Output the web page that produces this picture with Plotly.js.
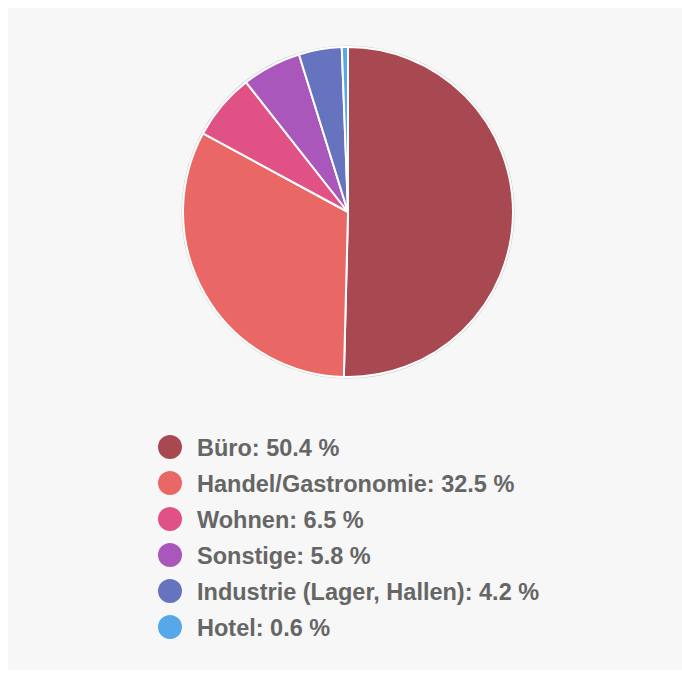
<!DOCTYPE html>
<html>
<head>
<meta charset="utf-8">
<script src="https://cdn.plot.ly/plotly-3.0.1.min.js"></script>
<style>html,body{margin:0;padding:0;background:#fff;}#chart{width:682px;height:678px;}</style>
</head>
<body>
<div id="chart"></div>
<script>
const categories = ["Büro", "Handel/Gastronomie", "Wohnen", "Sonstige", "Industrie (Lager, Hallen)", "Hotel"];
const shares = [50.4, 32.5, 6.5, 5.8, 4.2, 0.6];
const colors = ["#a84850", "#e96866", "#e05185", "#a957bb", "#6673bf", "#56a8ea"];

const W = 682, H = 678;
const px = x => x / W;
const py = y => 1 - y / H;

const cx = 348, cy = 212, R = 165;

const pie = {
  type: "pie",
  labels: categories,
  values: shares,
  sort: false,
  direction: "clockwise",
  rotation: 0,
  marker: { colors: colors, line: { color: "#ffffff", width: 2 } },
  textinfo: "none",
  hoverinfo: "label+percent",
  showlegend: false,
  domain: { x: [px(cx - R), px(cx + R)], y: [py(cy + R), py(cy - R)] }
};

const shapes = [
  { type: "rect", xref: "paper", yref: "paper", x0: px(8), x1: px(682), y0: py(670), y1: py(8),
    fillcolor: "#f7f7f7", line: { width: 0 }, layer: "below" },
  { type: "circle", xref: "paper", yref: "paper", x0: px(cx - R - 1), x1: px(cx + R + 1),
    y0: py(cy + R + 1), y1: py(cy - R - 1), fillcolor: "rgba(0,0,0,0)",
    line: { color: "#cfcfcf", width: 1.2 }, layer: "below" }
];
const annotations = [];
const legTop = 447, legStep = 36, legCx = 170, legR = 12, legTextX = 195;
categories.forEach((c, i) => {
  const y = legTop + i * legStep;
  shapes.push({ type: "circle", xref: "paper", yref: "paper",
    x0: px(legCx - legR), x1: px(legCx + legR), y0: py(y + legR), y1: py(y - legR),
    fillcolor: colors[i], line: { width: 0 } });
  annotations.push({ xref: "paper", yref: "paper", x: px(legTextX), y: py(y + 1),
    xanchor: "left", yanchor: "middle", showarrow: false,
    text: "<b>" + c + ": " + shares[i].toFixed(1) + " %</b>",
    font: { family: "Liberation Sans, Arial, sans-serif", size: 23.5, color: "#666666" } });
});

const layout = {
  width: W, height: H,
  margin: { l: 0, r: 0, t: 0, b: 0 },
  paper_bgcolor: "#ffffff",
  plot_bgcolor: "rgba(0,0,0,0)",
  showlegend: false,
  shapes: shapes,
  annotations: annotations
};

Plotly.newPlot("chart", [pie], layout, { displayModeBar: false, staticPlot: true });
</script>
</body>
</html>
